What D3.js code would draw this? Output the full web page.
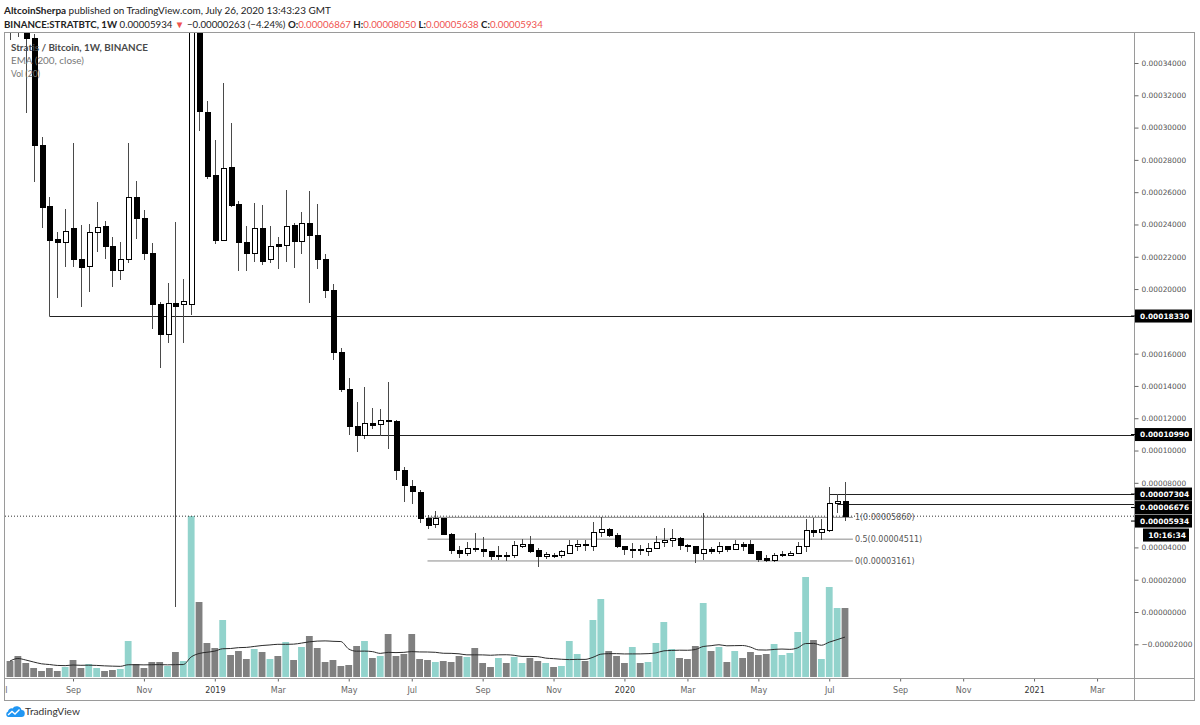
<!DOCTYPE html>
<html>
<head>
<meta charset="utf-8">
<title>STRATBTC 1W</title>
<script src="https://cdn.jsdelivr.net/npm/d3@7"></script>
<style>
  body { margin: 0; background: #fff; }
  svg { display: block; font-family: Lato, "Open Sans", sans-serif; }
</style>
</head>
<body>
<svg id="chart" width="1200" height="725"></svg>
<script>
// weekly STRAT/BTC candles, prices in satoshi (1e-8 BTC), first bar = week of 2018-07-09
const firstWeek = "2018-07-09";

const open = [40500,37500,36300,35540,28860,25140,23100,22910,23720,21860,
  21420,23530,23900,22660,21180,21800,25640,24340,22230,19070,
  17210,19130,19070,19070,38500,30960,27060,23030,27550,25260,
  22910,22230,23720,21800,22790,22720,23960,22970,24030,23340,
  21860,19880,16100,13810,11460,10900,11700,11640,11890,11770,
  8790,7800,7430,5760,5390,5760,4830,3780,3650,3960,
  3900,3720,3410,3530,3470,4030,4210,3780,3410,3530,
  3470,3650,4030,4210,4030,4950,5140,4710,4030,3840,
  3870,3720,3960,4330,4400,4580,4090,4030,3650,3900,
  3720,4030,3900,4210,4150,3720,3340,3160,3530,3530,
  3650,4030,5020,4950,5020,6750,6867];

const high = [42800,39500,37000,35800,29410,25700,23530,24950,29040,23960,
  24030,25390,24210,23220,22910,29040,26690,24890,22850,19200,
  20370,24150,20620,41000,40000,31640,29230,32760,30280,25450,
  23900,25330,25200,23900,23220,26130,24090,24770,26070,25260,
  22170,20310,16350,14490,13000,13930,12630,12570,14240,11890,
  8980,8170,7550,6010,6250,5820,4890,4090,4330,4890,
  4640,3780,4090,3720,4400,4520,4710,3960,3720,3650,
  3840,4460,4460,4460,5570,5880,5200,4890,4090,4270,
  4150,4270,4710,5200,5140,4640,4210,4090,6130,4030,
  4330,4090,4460,4330,4460,3780,3530,3650,3780,3780,
  4330,5760,5820,5760,7740,7304,8050];

const low = [35400,35600,30900,26630,23780,18330,19440,21360,21360,18890,
  19810,22290,21860,20120,20560,21610,23100,21800,17520,15110,
  16660,310,16660,18390,29780,26810,22790,23030,25080,21120,
  21120,21670,21490,21610,21240,21670,21300,22170,19130,21240,
  19440,15600,13620,10960,9910,10710,11330,10900,10090,8170,
  6810,6690,5510,5140,5200,4770,3590,3340,3470,3720,
  3410,3220,3220,3160,3340,3960,3650,2790,3280,3340,
  3340,3590,3780,3780,3780,4640,4640,3960,3530,3340,
  3530,3470,3900,4030,4030,3840,3720,3030,3220,3590,
  3590,3720,3840,3780,3590,3100,3100,3100,3410,3470,
  3590,3720,4640,4460,4950,6130,5638];

const close = [37500,36300,35540,28860,25080,23030,22910,23590,21860,21360,
  23530,23840,22660,21120,21860,25640,24340,22230,19070,17210,
  19130,18890,19260,38500,31020,26940,23030,27490,25200,22910,
  22230,23720,21730,22660,22660,23900,22970,24030,23340,21860,
  19880,16100,13810,11460,10900,11700,11580,11890,11770,8790,
  7860,7490,5760,5330,5760,4830,3780,3650,3960,3840,
  3720,3410,3530,3470,4090,4210,3720,3410,3590,3470,
  3720,4090,4210,4090,4950,5140,4710,4030,3840,3870,
  3840,3960,4330,4400,4580,4090,4060,3650,3900,3720,
  4030,3840,4210,4030,3650,3280,3160,3530,3560,3650,
  4030,5020,4950,5140,6750,6867,5934];

const volume = [160,210,140,90,60,90,60,100,170,90,
  130,90,60,70,80,360,130,90,150,150,
  110,250,160,1610,750,340,290,570,220,260,
  180,280,250,180,210,350,170,300,410,290,
  150,170,110,120,310,360,190,210,430,210,
  230,430,180,170,150,160,150,210,200,290,
  140,100,190,140,200,140,190,160,140,100,
  110,360,230,160,570,780,260,210,140,300,
  140,150,340,550,280,190,180,310,740,260,
  300,150,260,190,250,220,230,330,220,240,
  450,1000,370,180,900,690,690];

// drawn horizontal levels (price, bar where the ray starts)
const levels = [18330, 10990, 7304, 6676];
const levelFrom = [5, 44.6, 104, 105];

// fib retracement
const fibHigh = 5860, fibLow = 3161;
const fibRatios = [1, 0.5, 0];
const fibFrom = 53, fibTo = 107;

const priceTicks = d3.range(-2000, 34001, 2000);
const countdown = "10:16:34";

const headerLine1 = ["AltcoinSherpa", " published on TradingView.com, July 26, 2020 13:43:23 GMT"];
const headerSymbol = "BINANCE:STRATBTC, 1W";
const headerChange = "\u22120.00000263 (\u22124.24%)";
const legendLines = ["Stratis / Bitcoin, 1W, BINANCE", "EMA (200, close)", "Vol (20)"];

/**********************************************/
const svg = d3.select("#chart");
const red = "#ef5350";
const axisFont = "DejaVu Sans";

const x = d3.scaleLinear().domain([0, open.length - 1]).range([10, 845]);
const y = d3.scaleLinear().domain([0, 34000]).range([612, 63]);
const yVol = d3.scaleLinear().domain([0, d3.max(volume)]).range([677, 516]);

const fmt = v => (v < 0 ? "\u2212" : "") + (Math.abs(v) / 1e8).toFixed(8);

// scale a text's font size so that it spans the given width
function fit(sel, width) {
  const fs = +sel.attr("font-size");
  const w = sel.node().getComputedTextLength();
  sel.attr("font-size", (fs * width / w).toFixed(2));
  return sel;
}

const candles = open.map((o, i) => ({ i, o, h: high[i], l: low[i], c: close[i], v: volume[i] }));
const last = candles[candles.length - 1];

const defs = svg.append("defs");
defs.append("clipPath").attr("id", "pane")
  .append("rect").attr("x", 5).attr("y", 33).attr("width", 1129).attr("height", 645);
defs.append("clipPath").attr("id", "timeclip")
  .append("rect").attr("x", 5).attr("y", 679).attr("width", 1129).attr("height", 21);

// header
const h1 = svg.append("text").attr("x", 4).attr("y", 14).attr("font-size", 12).attr("fill", "#222");
h1.append("tspan").attr("font-weight", "bold").text(headerLine1[0]);
h1.append("tspan").text(headerLine1[1]);
fit(h1, 327);

const h2 = svg.append("text").attr("x", 4).attr("y", 28).attr("font-size", 12).attr("fill", "#222");
h2.append("tspan").attr("font-weight", "bold").text(headerSymbol);
h2.append("tspan").text(" " + fmt(last.c) + " ");
h2.append("tspan").attr("fill", red).text("\u25BC");
h2.append("tspan").text(" " + headerChange + " ");
[["O:", last.o], ["H:", last.h], ["L:", last.l], ["C:", last.c]].forEach(([k, v], j) => {
  h2.append("tspan").attr("font-weight", "bold").text((j ? " " : "") + k);
  h2.append("tspan").attr("fill", red).text(fmt(v));
});
fit(h2, 539);

// pane content
const plot = svg.append("g").attr("clip-path", "url(#pane)");

plot.append("g").selectAll("rect").data(candles).join("rect")
  .attr("x", d => x(d.i) - 3.4).attr("width", 6.8)
  .attr("y", d => yVol(d.v)).attr("height", d => yVol(0) - yVol(d.v))
  .attr("fill", d => d.c >= d.o ? "#92d3cc" : "#808080");

const volMA = volume.map((v, i) => d3.mean(volume.slice(Math.max(0, i - 19), i + 1)));
plot.append("path").datum(volMA)
  .attr("fill", "none").attr("stroke", "#2b2b2b").attr("stroke-width", 1)
  .attr("d", d3.line().x((v, i) => x(i)).y(v => yVol(v)).curve(d3.curveMonotoneX));

// last price dotted line
plot.append("line")
  .attr("x1", 5).attr("x2", 1134).attr("y1", y(last.c)).attr("y2", y(last.c))
  .attr("stroke", "#333").attr("stroke-dasharray", "1,2");

// fib levels
const fib = plot.append("g");
fibRatios.forEach(r => {
  const p = fibLow + (fibHigh - fibLow) * r;
  fib.append("line").attr("x1", x(fibFrom)).attr("x2", x(fibTo)).attr("y1", y(p)).attr("y2", y(p))
    .attr("stroke", "#8a8a8a").attr("stroke-width", 1);
  fib.append("text").attr("x", x(fibTo) + 2).attr("y", y(p)).attr("dy", "0.35em")
    .attr("font-family", axisFont).attr("font-size", 8).attr("fill", "#555")
    .text(r + "(" + fmt(Math.round(p)) + ")");
});

// horizontal rays
levels.forEach((p, k) => {
  plot.append("line").attr("x1", x(levelFrom[k])).attr("x2", 1134).attr("y1", Math.round(y(p)) + 0.5).attr("y2", Math.round(y(p)) + 0.5)
    .attr("stroke", "#222").attr("stroke-width", 1);
});

// candles
const cg = plot.append("g").attr("shape-rendering", "crispEdges");
cg.selectAll("line").data(candles).join("line")
  .attr("x1", d => Math.round(x(d.i)) + 0.5).attr("x2", d => Math.round(x(d.i)) + 0.5)
  .attr("y1", d => y(d.h)).attr("y2", d => y(d.l))
  .attr("stroke", "#4a4a4a");
cg.selectAll("rect").data(candles).join("rect")
  .attr("x", d => Math.round(x(d.i)) - 2)
  .attr("width", 5)
  .attr("y", d => y(Math.max(d.o, d.c)))
  .attr("height", d => Math.max(1, Math.abs(y(d.o) - y(d.c))))
  .attr("fill", d => d.c >= d.o ? "#fff" : "#000")
  .attr("stroke", "#000");

// legend
legendLines.forEach((t, k) => {
  const lt = svg.append("text").attr("x", 11).attr("y", 51 + k * 13)
    .attr("font-size", 11).attr("font-weight", k ? 400 : 700)
    .attr("fill", k ? "#777" : "#4a4a4a")
    .text(t);
  fit(lt, [137, 73, 29][k]);
});

// frame
svg.append("rect").attr("x", 4.5).attr("y", 32.5).attr("width", 1190).attr("height", 668)
  .attr("fill", "none").attr("stroke", "#9a9a9a");
svg.append("line").attr("x1", 1134.5).attr("x2", 1134.5).attr("y1", 32.5).attr("y2", 700.5).attr("stroke", "#9a9a9a");
svg.append("line").attr("x1", 4.5).attr("x2", 1194.5).attr("y1", 678.5).attr("y2", 678.5).attr("stroke", "#9a9a9a");

// axis labels for levels and last price, stacked so they do not overlap
const boxes = levels.map(p => ({ p, label: fmt(p) })).concat([{ p: last.c, label: fmt(last.c) }]);
boxes.sort((a, b) => b.p - a.p);
let prevY = -Infinity;
boxes.forEach(b => { b.y = Math.max(y(b.p), prevY + 13.5); prevY = b.y; });

// price axis (labels hidden under a box are dropped)
const yAxis = d3.axisRight(y)
  .tickValues(priceTicks.filter(v => boxes.every(b => Math.abs(y(v) - b.y) > 10)))
  .tickSize(4).tickPadding(3).tickFormat(fmt);
svg.append("g").attr("transform", "translate(1134.5,0)").call(yAxis)
  .call(g => g.select(".domain").remove())
  .call(g => g.selectAll("line").attr("stroke", "#666"))
  .call(g => g.selectAll("text").attr("fill", "#555").attr("font-family", axisFont).attr("font-size", 7.4));

const bg = svg.append("g");
boxes.forEach(b => {
  bg.append("rect").attr("x", 1135).attr("y", b.y - 6.5).attr("width", 57).attr("height", 13).attr("fill", "#000");
  bg.append("line").attr("x1", 1131).attr("x2", 1135).attr("y1", b.y).attr("y2", b.y).attr("stroke", "#000");
  bg.append("text").attr("x", 1140).attr("y", b.y).attr("dy", "0.36em")
    .attr("font-family", axisFont).attr("font-size", 7.4).attr("font-weight", "bold").attr("fill", "#fff")
    .text(b.label);
});
bg.append("rect").attr("x", 1143).attr("y", prevY + 7.5).attr("width", 46).attr("height", 13).attr("fill", "#000");
bg.append("text").attr("x", 1186).attr("y", prevY + 14).attr("dy", "0.36em").attr("text-anchor", "end")
  .attr("font-family", axisFont).attr("font-size", 7.6).attr("font-weight", "bold").attr("fill", "#fff")
  .text(countdown);

// time axis: first weekly bar of every odd month
const t0 = new Date(firstWeek + "T00:00:00Z");
const weekDate = i => new Date(t0.getTime() + i * 7 * 864e5);
const timeTicks = d3.range(-2, 150).filter(i => {
  const d = weekDate(i);
  return d.getUTCDate() <= 7 && d.getUTCMonth() % 2 === 0;
});
const xAxis = d3.axisBottom(x).tickValues(timeTicks).tickSize(3).tickPadding(6)
  .tickFormat(i => { const d = weekDate(i); return d.getUTCMonth() === 0 ? d3.utcFormat("%Y")(d) : d3.utcFormat("%b")(d); });
svg.append("g").attr("clip-path", "url(#timeclip)")
  .append("g").attr("transform", "translate(0,678.5)").call(xAxis)
  .call(g => g.select(".domain").remove())
  .call(g => g.selectAll("line").attr("stroke", "#666"))
  .call(g => g.selectAll("text").attr("font-family", axisFont).attr("font-size", 8)
    .attr("fill", i => weekDate(i).getUTCMonth() === 0 ? "#333" : "#666"));

// footer logo
const logo = svg.append("g").attr("transform", "translate(5,705)");
logo.append("path")
  .attr("d", "M3,12 h13 a3.5,3.5 0 0 0 0.5,-7 a5,5 0 0 0 -9,-1.5 a3.5,3.5 0 0 0 -4.5,3 a3,3 0 0 0 0,5.5 z")
  .attr("fill", "#2196f3");
logo.append("path").attr("d", "M3,10 L7,6.5 L10,9 L14.5,4.5")
  .attr("fill", "none").attr("stroke", "#fff").attr("stroke-width", 1.4);
fit(svg.append("text").attr("x", 25).attr("y", 715).attr("font-size", 11).attr("fill", "#333").text("TradingView"), 55);
</script>
</body>
</html>
